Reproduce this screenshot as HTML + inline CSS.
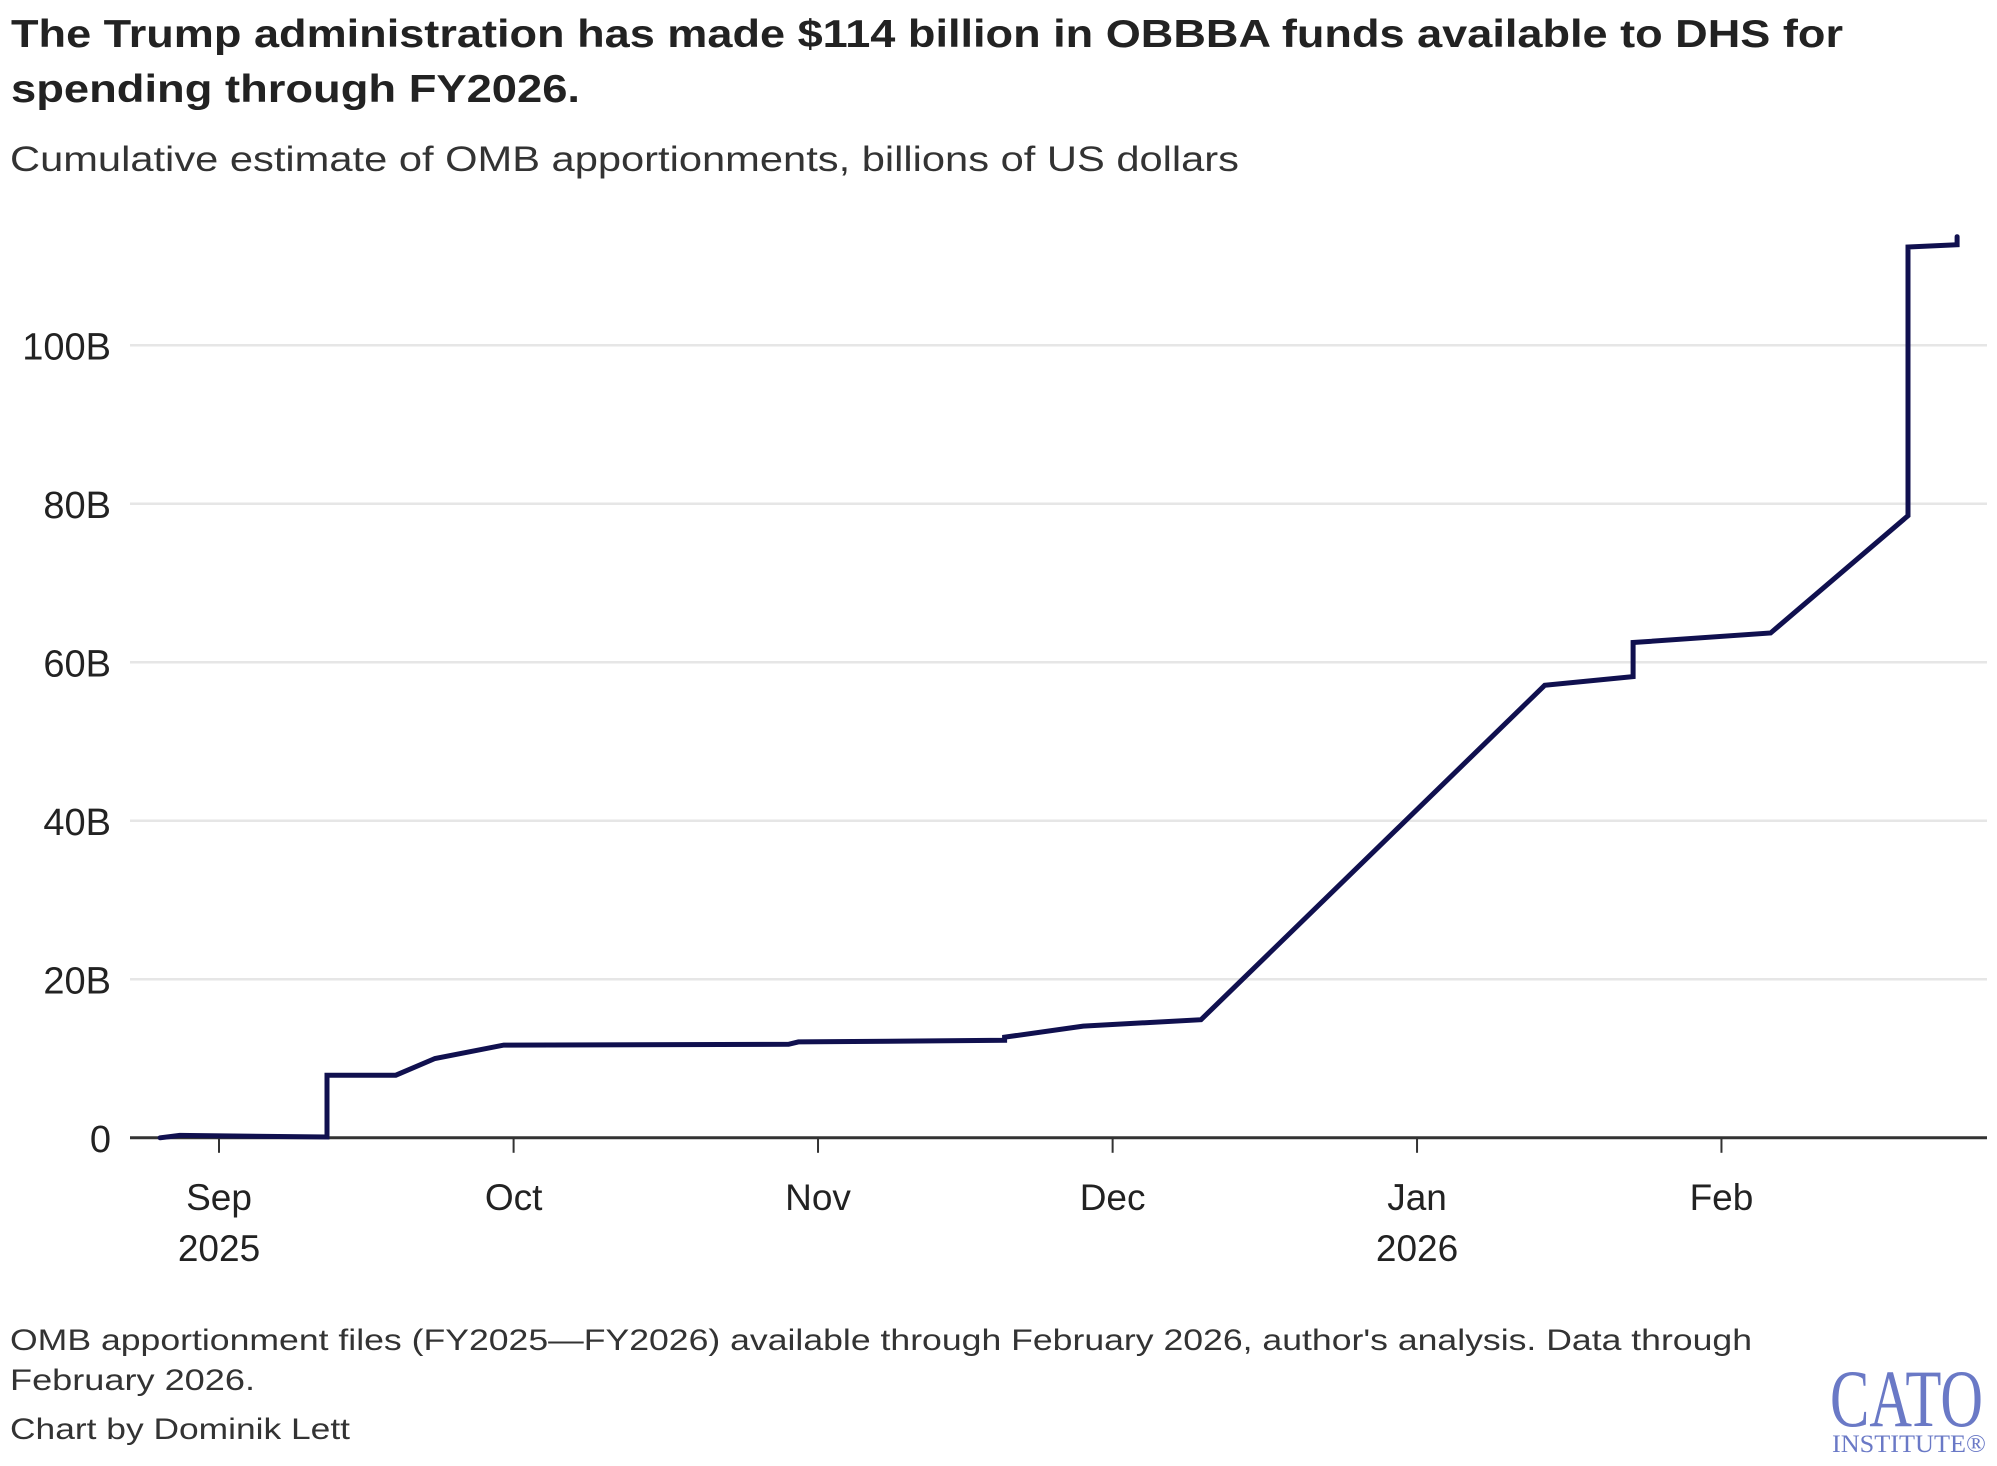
<!DOCTYPE html>
<html><head><meta charset="utf-8"><style>
html,body{margin:0;padding:0;background:#fff;}
svg{display:block;font-family:"Liberation Sans",sans-serif;}
</style></head><body>
<svg id="chart" width="1997" height="1466" viewBox="0 0 1997 1466">
<text x="11" y="47" font-size="39" font-weight="bold" fill="#222" textLength="1832" lengthAdjust="spacingAndGlyphs">The Trump administration has made $114 billion in OBBBA funds available to DHS for</text>
<text x="11" y="102" font-size="39" font-weight="bold" fill="#222" textLength="569" lengthAdjust="spacingAndGlyphs">spending through FY2026.</text>
<text x="10" y="171" font-size="35" fill="#333" textLength="1229" lengthAdjust="spacingAndGlyphs">Cumulative estimate of OMB apportionments, billions of US dollars</text>
<g id="grid"></g>
<g id="yaxis"></g>
<g id="xaxis"></g>
<g id="series"></g>
<text x="10" y="1350" font-size="30" fill="#333" textLength="1742" lengthAdjust="spacingAndGlyphs">OMB apportionment files (FY2025—FY2026) available through February 2026, author's analysis. Data through</text>
<text x="10" y="1390" font-size="30" fill="#333" textLength="245" lengthAdjust="spacingAndGlyphs">February 2026.</text>
<text x="10" y="1439" font-size="30" fill="#333" textLength="340" lengthAdjust="spacingAndGlyphs">Chart by Dominik Lett</text>
<g>
<text x="1830" y="1426" font-family="Liberation Serif, serif" font-size="82" fill="#6a79c6" textLength="153" lengthAdjust="spacingAndGlyphs">CATO</text>
<text x="1832" y="1452" font-family="Liberation Serif, serif" font-size="25" fill="#6a79c6" textLength="154" lengthAdjust="spacingAndGlyphs">INSTITUTE®</text>
</g>
</svg>
<script>
const dates = ["2025-08-26","2025-08-28","2025-09-12","2025-09-12","2025-09-19","2025-09-23","2025-09-30","2025-10-29","2025-10-30","2025-11-20","2025-11-20","2025-11-28","2025-12-10","2026-01-14","2026-01-23","2026-01-23","2026-02-06","2026-02-20","2026-02-20","2026-02-25","2026-02-25"];
const values = [0, 0.3, 0.1, 7.9, 7.9, 10, 11.7, 11.8, 12.1, 12.3, 12.7, 14.1, 14.9, 57.1, 58.2, 62.5, 63.7, 78.5, 112.4, 112.7, 113.7];
const yTicks = [0, 20, 40, 60, 80, 100];
const yTickLabels = ["0", "20B", "40B", "60B", "80B", "100B"];
const xTickDates = ["2025-09-01","2025-10-01","2025-11-01","2025-12-01","2026-01-01","2026-02-01"];
const xTickLabels = ["Sep","Oct","Nov","Dec","Jan","Feb"];
const xYearLabels = ["2025","","","","2026",""];

const NS = "http://www.w3.org/2000/svg";
const X0 = 219, PX_PER_DAY = 9.82, Y0 = 1137.8, PX_PER_B = 7.925;
const LEFT = 130, RIGHT = 1987;
const origin = Date.UTC(2025, 8, 1);
function dayOf(s){ const p = s.split("-"); return (Date.UTC(+p[0], +p[1]-1, +p[2]) - origin) / 86400000; }
function xScale(s){ return X0 + dayOf(s) * PX_PER_DAY; }
function yScale(v){ return Y0 - v * PX_PER_B; }
function mk(tag, attrs, parent){ const e = document.createElementNS(NS, tag); for (const k in attrs) e.setAttribute(k, attrs[k]); parent.appendChild(e); return e; }

const grid = document.getElementById("grid");
const yaxis = document.getElementById("yaxis");
yTicks.forEach((t, i) => {
  if (t !== 0) {
    const g = mk("line", {x1: LEFT, x2: RIGHT, y1: yScale(t), y2: yScale(t), stroke: "#e6e6e6", "stroke-width": 2.5}, grid);
    
    
  }
  const lb = mk("text", {x: 111, y: yScale(t) + 14, "text-anchor": "end", "font-size": 38, fill: "#222"}, yaxis);
  lb.textContent = yTickLabels[i];
  
  
});

const xaxis = document.getElementById("xaxis");
const ax = mk("line", {x1: LEFT, x2: RIGHT, y1: Y0, y2: Y0, stroke: "#333", "stroke-width": 3}, xaxis);


xTickDates.forEach((d, i) => {
  const x = xScale(d);
  const tk = mk("line", {x1: x, x2: x, y1: Y0, y2: Y0 + 15, stroke: "#333", "stroke-width": 2}, xaxis);
  
  
  const lb = mk("text", {x: x, y: 1210, "text-anchor": "middle", "font-size": 37, fill: "#222"}, xaxis);
  lb.textContent = xTickLabels[i];
  
  
  if (xYearLabels[i]) {
    const yl = mk("text", {x: x, y: 1261, "text-anchor": "middle", "font-size": 37, fill: "#222"}, xaxis);
    yl.textContent = xYearLabels[i];
    
    
  }
});

const series = document.getElementById("series");
const pts = dates.map((d, i) => xScale(d).toFixed(1) + "," + yScale(values[i]).toFixed(1)).join(" ");
const line = mk("polyline", {points: pts, fill: "none", stroke: "#10104f", "stroke-width": 5, "stroke-linejoin": "miter", "stroke-linecap": "round"}, series);


</script>
</body></html>
